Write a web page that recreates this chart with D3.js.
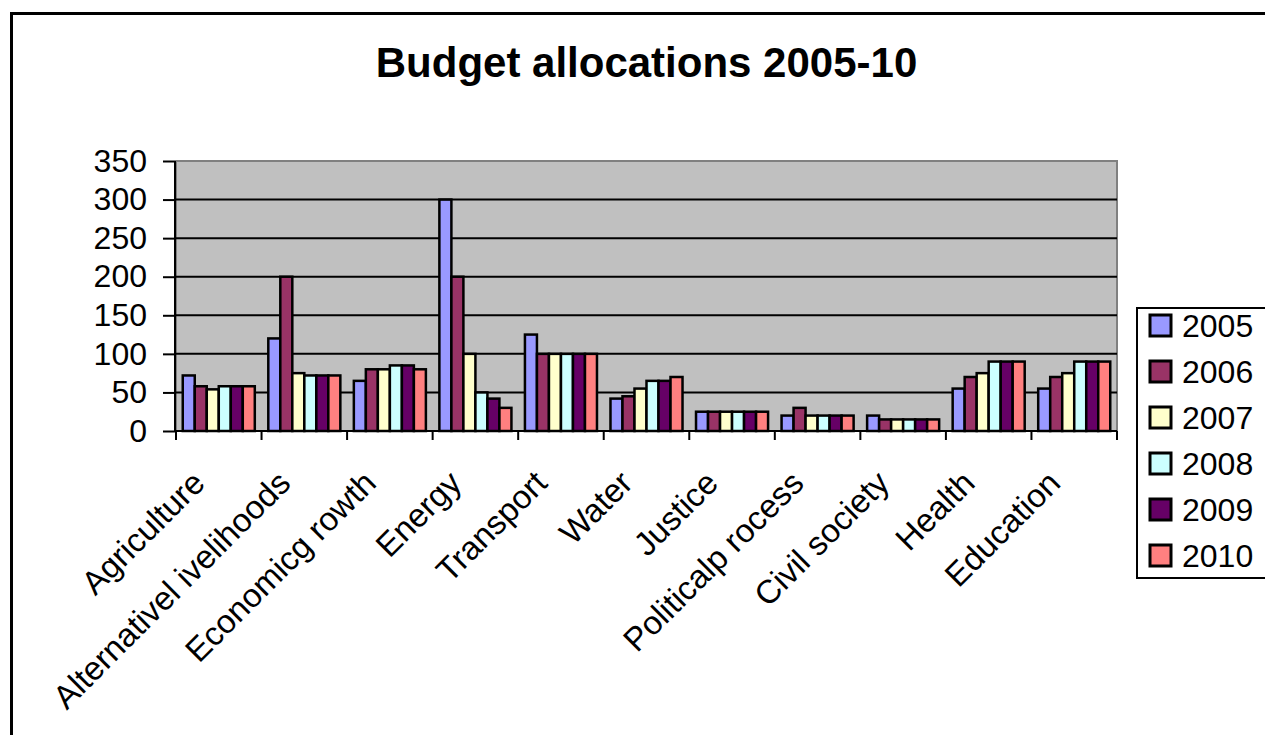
<!DOCTYPE html>
<html>
<head>
<meta charset="utf-8">
<script src="https://cdnjs.cloudflare.com/ajax/libs/d3/7.8.5/d3.min.js"></script>
<style>
  html, body { margin: 0; padding: 0; background: #fff; }
  svg { display: block; }
  text { font-family: "Liberation Sans", Arial, sans-serif; fill: #000; }
</style>
</head>
<body>
<svg id="chart" width="1265" height="735"></svg>
<script>
const categories = ["Agriculture", "Alternativel ivelihoods", "Economicg rowth", "Energy", "Transport", "Water", "Justice", "Politicalp rocess", "Civil society", "Health", "Education"];
const years = ["2005", "2006", "2007", "2008", "2009", "2010"];
const v2005 = [72, 120, 65, 300, 125, 42, 25, 20, 20, 55, 55];
const v2006 = [58, 200, 80, 200, 100, 45, 25, 30, 15, 70, 70];
const v2007 = [54, 75, 80, 100, 100, 55, 25, 20, 15, 75, 75];
const v2008 = [58, 72, 85, 50, 100, 65, 25, 20, 15, 90, 90];
const v2009 = [58, 72, 85, 42, 100, 65, 25, 20, 15, 90, 90];
const v2010 = [58, 72, 80, 30, 100, 70, 25, 20, 15, 90, 90];
const yTicks = [0, 50, 100, 150, 200, 250, 300, 350];
const colors = ["#9999FF", "#993366", "#FFFFCC", "#CCFFFF", "#660066", "#FF8080"];
const title = "Budget allocations 2005-10";

const seriesValues = [v2005, v2006, v2007, v2008, v2009, v2010];
const data = categories.map((c, i) => ({
  cat: c,
  vals: years.map((y, j) => ({ year: y, value: seriesValues[j][i], color: colors[j] }))
}));

const svg = d3.select("#chart");

// outer chart border
svg.append("rect")
  .attr("x", 11.5).attr("y", 13.5)
  .attr("width", 1300).attr("height", 800)
  .attr("fill", "#fff").attr("stroke", "#000").attr("stroke-width", 3);

const plot = { left: 176, right: 1117, top: 161, bottom: 431 };

const x0 = d3.scaleBand().domain(categories).range([plot.left, plot.right]).paddingInner(0).paddingOuter(0);
const groupPad = 6.75;
const x1 = d3.scaleBand().domain(years).range([groupPad, x0.bandwidth() - groupPad]).padding(0);
const y = d3.scaleLinear().domain([0, 350]).range([plot.bottom, plot.top]);

// title
svg.append("text")
  .attr("x", (plot.left + plot.right) / 2)
  .attr("y", 77)
  .attr("text-anchor", "middle")
  .attr("font-size", 42)
  .attr("font-weight", "bold")
  .text(title);

// plot area background
svg.append("rect")
  .attr("x", plot.left).attr("y", plot.top)
  .attr("width", plot.right - plot.left).attr("height", plot.bottom - plot.top)
  .attr("fill", "#C0C0C0")
  .attr("stroke", "#808080").attr("stroke-width", 2);

// gridlines
svg.append("g")
  .selectAll("line")
  .data(yTicks.filter(t => t > 0 && t < 350))
  .join("line")
  .attr("x1", plot.left).attr("x2", plot.right)
  .attr("y1", d => y(d)).attr("y2", d => y(d))
  .attr("stroke", "#000").attr("stroke-width", 2);

// bars
const groups = svg.append("g")
  .selectAll("g")
  .data(data)
  .join("g")
  .attr("transform", d => `translate(${x0(d.cat)},0)`);

groups.selectAll("rect")
  .data(d => d.vals)
  .join("rect")
  .attr("x", d => x1(d.year))
  .attr("y", d => y(d.value))
  .attr("width", x1.bandwidth())
  .attr("height", d => y(0) - y(d.value))
  .attr("fill", d => d.color)
  .attr("stroke", "#000")
  .attr("stroke-width", 2.5);

// y axis
const yAxis = d3.axisLeft(y).tickValues(yTicks).tickSize(12).tickPadding(16).tickFormat(d3.format("d"));
const gy = svg.append("g").attr("transform", `translate(${plot.left - 1},0)`).call(yAxis);
gy.select(".domain").attr("stroke", "#000").attr("stroke-width", 2).attr("d", `M0,${plot.top}V${plot.bottom}`);
gy.selectAll(".tick line").attr("stroke", "#000").attr("stroke-width", 2);
gy.selectAll(".tick text").attr("font-size", 32).attr("font-family", "Liberation Sans, Arial, sans-serif").attr("fill", "#000");

// x axis line
svg.append("line")
  .attr("x1", plot.left - 1).attr("x2", plot.right)
  .attr("y1", plot.bottom).attr("y2", plot.bottom)
  .attr("stroke", "#000").attr("stroke-width", 2);

// x ticks at category boundaries
const boundaries = categories.map(c => x0(c)).concat([plot.right]);
svg.append("g")
  .selectAll("line")
  .data(boundaries)
  .join("line")
  .attr("x1", d => d).attr("x2", d => d)
  .attr("y1", plot.bottom).attr("y2", plot.bottom + 9)
  .attr("stroke", "#000").attr("stroke-width", 2);

// x labels
svg.append("g")
  .selectAll("text")
  .data(categories)
  .join("text")
  .attr("transform", d => `translate(${x0(d) + x0.bandwidth() / 2 - 12},${plot.bottom + 54}) rotate(-45)`)
  .attr("text-anchor", "end")
  .attr("font-size", 33)
  .text(d => d);

// legend
const legend = svg.append("g");
legend.append("rect")
  .attr("x", 1137).attr("y", 308)
  .attr("width", 200).attr("height", 270)
  .attr("fill", "#fff").attr("stroke", "#000").attr("stroke-width", 2);

const items = legend.selectAll("g.item")
  .data(years.map((yv, i) => ({ year: yv, color: colors[i] })))
  .join("g")
  .attr("class", "item")
  .attr("transform", (d, i) => `translate(0,${325 + i * 46})`);

items.append("rect")
  .attr("x", 1150).attr("y", -10)
  .attr("width", 21).attr("height", 21)
  .attr("fill", d => d.color)
  .attr("stroke", "#000").attr("stroke-width", 3);

items.append("text")
  .attr("x", 1182).attr("y", 12)
  .attr("font-size", 32)
  .text(d => d.year);
</script>
</body>
</html>
